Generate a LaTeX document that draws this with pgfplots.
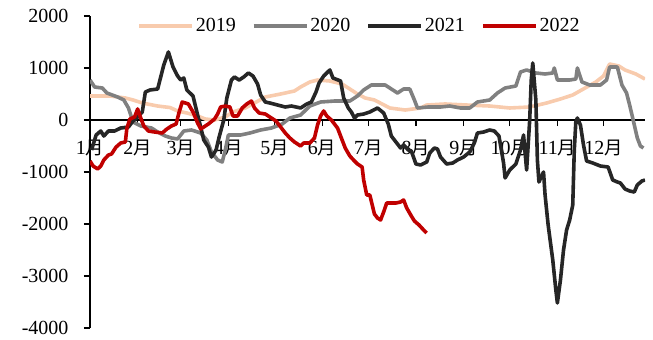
\documentclass[border=0pt]{standalone}
\usepackage{fontspec}
\setmainfont{Liberation Serif}
\newfontfamily\cjk{Noto Sans CJK SC}[Scale=0.92]
\usepackage{pgfplots}
\pgfplotsset{compat=1.18}
\definecolor{c19}{HTML}{F8CBAD}
\definecolor{c20}{HTML}{808080}
\definecolor{c21}{HTML}{262626}
\definecolor{c22}{HTML}{C00000}
\begin{document}
\begin{tikzpicture}
\useasboundingbox (0,0) rectangle (653bp,340bp);
\begin{axis}[
  at={(90bp,12bp)}, anchor=south west,
  scale only axis, width=555bp, height=312bp,
  xmin=0, xmax=361, ymin=-4000, ymax=2000,
  axis x line*=middle, axis y line*=left,
  hide obscured x ticks=false, hide obscured y ticks=false,
  axis line style={line width=1.2bp, black},
  xtick={0,31,59,90,120,151,181,212,243,273,304,334},
  xticklabels={{1{\cjk 月}},{2{\cjk 月}},{3{\cjk 月}},{4{\cjk 月}},{5{\cjk 月}},{6{\cjk 月}},{7{\cjk 月}},{8{\cjk 月}},{9{\cjk 月}},{10{\cjk 月}},{11{\cjk 月}},{12{\cjk 月}}},
  ytick={-4000,-3000,-2000,-1000,0,1000,2000},
  yticklabels={{-4000},{-3000},{-2000},{-1000},{0},{1000},{2000}},
  tick align=outside,
  major tick length=6bp,
  tick style={line width=1.2bp, black},
  tick label style={font=\fontsize{20bp}{24bp}\selectfont},
  xticklabel style={anchor=north, yshift=-10bp},
  yticklabel style={anchor=east, xshift=-12bp},
  legend columns=4,
  legend style={draw=none, fill=none, at={(0.0847,0.968)}, anchor=west, inner sep=0pt,
    font=\fontsize{20bp}{24bp}\selectfont,
    /tikz/every even column/.append style={column sep=14bp}},
  legend image code/.code={\draw[#1, line width=3.6bp] (0bp,0bp) -- (53bp,0bp);},
]
\addplot[c19, line width=3.6bp, line join=round, mark=none] coordinates {(0,462)(13,462)(23,423)(28,385)(34,327)(44,269)(52,240)(57,173)(63,135)(70,77)(75,19)(81,0)(88,58)(93,154)(101,231)(107,327)(114,442)(124,500)(133,558)(137,635)(143,731)(148,769)(156,750)(164,692)(169,596)(174,500)(179,423)(185,385)(195,231)(205,192)(215,231)(219,288)(231,308)(245,288)(260,269)(273,231)(286,250)(297,327)(306,404)(314,481)(322,615)(329,731)(334,846)(338,1077)(344,1038)(348,962)(355,885)(361,788)};
\addlegendentry{2019}
\addplot[c20, line width=3.6bp, line join=round, mark=none] coordinates {(0,769)(3,635)(8,615)(11,519)(18,442)(22,385)(25,231)(28,-38)(33,-115)(40,-154)(44,-231)(49,-308)(53,-346)(57,-365)(61,-212)(66,-192)(72,-250)(76,-385)(79,-615)(83,-769)(86,-808)(88,-577)(90,-288)(98,-288)(104,-250)(111,-192)(118,-154)(125,-77)(130,38)(137,96)(143,269)(150,346)(159,365)(169,365)(174,462)(178,577)(183,673)(192,673)(197,577)(200,519)(204,596)(208,596)(211,385)(213,231)(220,250)(228,250)(234,269)(241,231)(247,231)(252,346)(260,385)(265,519)(270,615)(277,654)(280,923)(284,962)(290,904)(296,885)(301,904)(302,1000)(304,769)(312,769)(316,788)(317,1000)(320,731)(325,673)(332,673)(336,769)(338,1019)(343,1019)(346,673)(349,519)(351,288)(353,38)(356,-346)(358,-500)(360,-538)};
\addlegendentry{2020}
\addplot[c21, line width=3.6bp, line join=round, mark=none] coordinates {(1,-577)(4,-288)(7,-212)(9,-308)(12,-212)(16,-212)(20,-154)(25,-135)(28,-19)(31,58)(34,154)(36,538)(39,577)(44,596)(46,827)(48,1058)(51,1308)(54,1019)(57,846)(59,769)(61,808)(63,577)(67,462)(70,96)(72,-135)(74,-385)(77,-519)(79,-712)(82,-577)(84,-327)(87,0)(89,423)(92,769)(94,827)(97,769)(100,827)(103,904)(106,846)(109,692)(111,481)(114,346)(117,327)(122,288)(127,250)(131,269)(137,231)(141,308)(144,346)(147,538)(149,712)(152,846)(154,904)(156,962)(158,808)(163,750)(165,423)(168,231)(170,154)(172,38)(174,96)(178,115)(182,154)(187,231)(191,135)(194,-77)(196,-308)(198,-385)(202,-538)(204,-481)(207,-577)(209,-596)(212,-846)(215,-865)(219,-808)(221,-635)(224,-538)(226,-558)(228,-712)(232,-846)(236,-827)(239,-769)(243,-712)(247,-615)(250,-442)(252,-250)(256,-231)(260,-192)(263,-212)(266,-308)(269,-827)(270,-1115)(273,-962)(277,-846)(280,-577)(282,-288)(284,-962)(286,0)(287,769)(288,1096)(290,385)(291,-769)(292,-1192)(295,-1000)(296,-1442)(298,-2019)(301,-2692)(303,-3269)(304,-3519)(306,-3077)(308,-2500)(310,-2115)(312,-1923)(314,-1635)(315,-577)(316,-38)(317,38)(319,-96)(321,-481)(323,-788)(327,-827)(332,-885)(337,-904)(340,-1154)(343,-1192)(345,-1212)(348,-1327)(351,-1365)(354,-1385)(356,-1250)(359,-1173)(361,-1154)};
\addlegendentry{2021}
\addplot[c22, line width=3.6bp, line join=round, mark=none] coordinates {(0,-788)(2,-885)(5,-942)(7,-885)(9,-769)(12,-673)(14,-654)(17,-519)(20,-442)(23,-423)(24,-154)(26,19)(29,58)(31,212)(33,38)(35,-115)(38,-212)(42,-231)(47,-250)(50,-173)(53,-115)(56,-77)(58,154)(60,346)(62,327)(64,308)(67,154)(70,-58)(72,-173)(74,-135)(77,-77)(81,19)(83,115)(85,250)(88,269)(91,250)(93,77)(96,77)(99,231)(102,308)(105,365)(107,231)(110,135)(114,115)(118,38)(121,-19)(124,-135)(127,-250)(130,-346)(133,-423)(137,-500)(139,-442)(143,-442)(146,-346)(148,-96)(150,77)(152,173)(154,77)(157,0)(161,-154)(163,-308)(166,-538)(169,-692)(172,-788)(174,-846)(177,-904)(178,-1154)(180,-1442)(182,-1442)(185,-1808)(187,-1885)(189,-1923)(191,-1769)(193,-1596)(196,-1596)(199,-1596)(202,-1577)(204,-1538)(206,-1692)(209,-1846)(211,-1942)(214,-2019)(217,-2115)(219,-2173)};
\addlegendentry{2022}
\end{axis}
\end{tikzpicture}
\end{document}
